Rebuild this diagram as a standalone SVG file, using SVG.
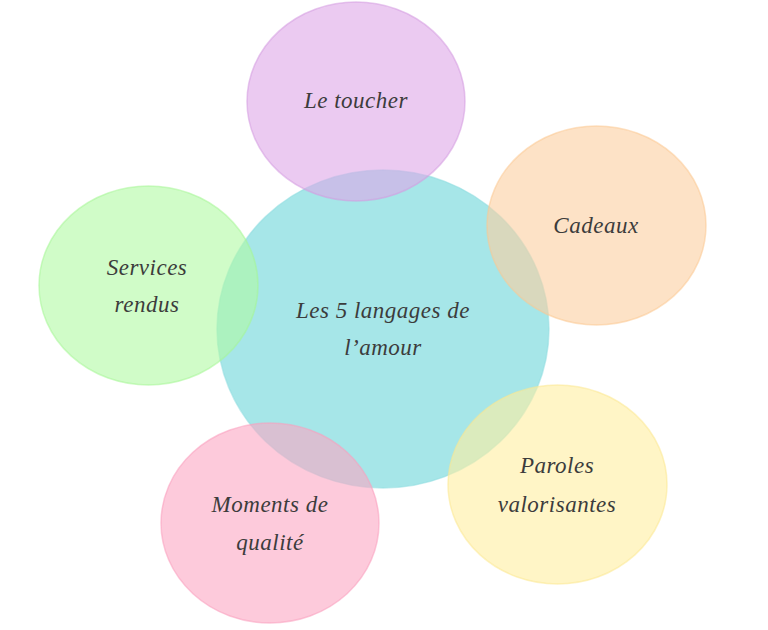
<svg xmlns="http://www.w3.org/2000/svg" width="768" height="630" viewBox="0 0 768 630">
<style>
.c{fill-opacity:0.6;stroke-width:1.5;stroke-opacity:0.55}
.t{font-family:"Liberation Serif","DejaVu Serif",serif;font-style:italic;font-size:23px;fill:#3c3c3c;text-anchor:middle;letter-spacing:0.5px}
</style>
<rect width="768" height="630" fill="#ffffff"/>
<g id="connectors"></g>
<g id="center">
<ellipse class="c" cx="383" cy="329" rx="166" ry="159" fill="#6bd5d9" stroke="#8fdde0"/>
<text class="t" x="383" y="318">Les 5 langages de</text>
<text class="t" x="383" y="355">l’amour</text>
</g>
<g id="toucher">
<ellipse class="c" cx="356" cy="101.5" rx="109" ry="99.5" fill="#dea7e8" stroke="#d39be0"/>
<text class="t" x="356" y="108">Le toucher</text>
</g>
<g id="cadeaux">
<ellipse class="c" cx="596.5" cy="225.5" rx="109.5" ry="99.5" fill="#fccfa0" stroke="#fbc891"/>
<text class="t" x="596" y="233">Cadeaux</text>
</g>
<g id="paroles">
<ellipse class="c" cx="557.5" cy="484.5" rx="109.5" ry="99.5" fill="#ffeea0" stroke="#fbe790"/>
<text class="t" x="557" y="473">Paroles</text>
<text class="t" x="557" y="512">valorisantes</text>
</g>
<g id="moments">
<ellipse class="c" cx="270" cy="523" rx="109" ry="100" fill="#fca7c3" stroke="#f99fbd"/>
<text class="t" x="270" y="512">Moments de</text>
<text class="t" x="270" y="550">qualité</text>
</g>
<g id="services">
<ellipse class="c" cx="148.5" cy="285.5" rx="109.5" ry="99.5" fill="#b1faa3" stroke="#a6f596"/>
<text class="t" x="147" y="275">Services</text>
<text class="t" x="147" y="312">rendus</text>
</g>
</svg>
